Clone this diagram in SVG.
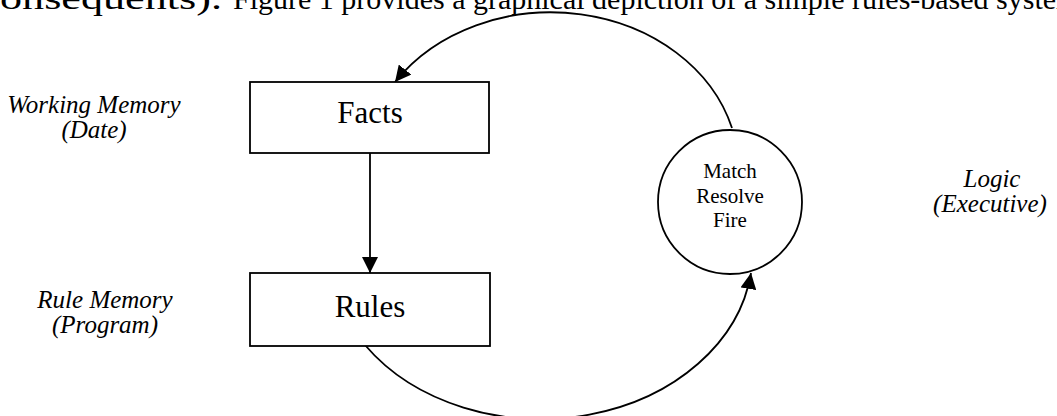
<svg xmlns="http://www.w3.org/2000/svg" width="1057" height="416" viewBox="0 0 1057 416">
<style>
.box{fill:#fff;stroke:#000;stroke-width:1.8}
.conn{fill:none;stroke:#000;stroke-width:1.8}
.t{font-family:"Liberation Serif","Times New Roman",serif;fill:#000;text-anchor:middle}
.lbl{font-family:"Liberation Serif","Times New Roman",serif;font-style:italic;font-size:25px;fill:#000;text-anchor:middle}
</style>
<defs>
<marker id="ah" viewBox="0 0 16 16" refX="16" refY="8" markerWidth="16" markerHeight="16" markerUnits="userSpaceOnUse" orient="auto">
<path d="M0,0 L16,8 L0,16 Z" fill="#000"/>
</marker>
</defs>
<rect width="1057" height="416" fill="#fff"/>
<text class="t" y="9" font-size="31" style="text-anchor:start"><tspan x="0" textLength="222" lengthAdjust="spacingAndGlyphs">onsequents).</tspan><tspan x="233" font-size="30">Figure 1 provides a graphical depiction of a simple rules-based system</tspan></text>
<g id="connectors">
<line class="conn" x1="370" y1="153" x2="370" y2="273" marker-end="url(#ah)"/>
<path class="conn" d="M732,128 A188,158 0 0 0 395,82" marker-end="url(#ah)"/>
<path class="conn" d="M365,345 A212,168 0 0 0 751,273" marker-end="url(#ah)"/>
</g>
<g id="facts">
<rect class="box" x="250" y="82" width="239" height="71"/>
<text class="t" x="370" y="123" font-size="31">Facts</text>
</g>
<g id="rules">
<rect class="box" x="250" y="273" width="240" height="73"/>
<text class="t" x="370" y="317" font-size="31">Rules</text>
</g>
<g id="engine">
<circle class="box" cx="730" cy="202" r="72"/>
<text class="t" x="730" y="178" font-size="21">Match</text>
<text class="t" x="730" y="203" font-size="21">Resolve</text>
<text class="t" x="730" y="227" font-size="21">Fire</text>
</g>
<g id="working-memory">
<text class="lbl" x="94" y="113">Working Memory</text>
<text class="lbl" x="94" y="138">(Date)</text>
</g>
<g id="rule-memory">
<text class="lbl" x="105" y="308">Rule Memory</text>
<text class="lbl" x="105" y="333">(Program)</text>
</g>
<g id="logic">
<text class="lbl" x="992" y="187">Logic</text>
<text class="lbl" x="990" y="212">(Executive)</text>
</g>
</svg>
